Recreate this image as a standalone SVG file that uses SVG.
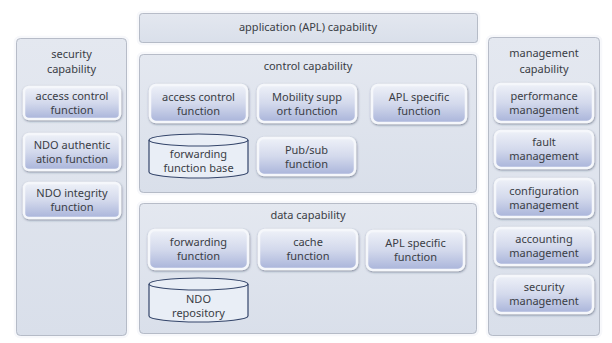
<svg xmlns="http://www.w3.org/2000/svg" width="612" height="343" viewBox="0 0 612 343">
<defs>
<linearGradient id="fg" x1="0" y1="0" x2="0" y2="1">
<stop offset="0" stop-color="#eef1f8"/>
<stop offset="0.5" stop-color="#d3d9ec"/>
<stop offset="1" stop-color="#a9b4da"/>
</linearGradient>
<linearGradient id="pg" x1="0" y1="0" x2="0" y2="1">
<stop offset="0" stop-color="#e4e8f0"/>
<stop offset="1" stop-color="#d9dfea"/>
</linearGradient>
<filter id="sh" x="-10%" y="-10%" width="120%" height="130%">
<feDropShadow dx="0.5" dy="1" stdDeviation="0.8" flood-color="#2a3550" flood-opacity="0.55"/>
</filter>
</defs>
<style>
.panel{fill:url(#pg);stroke:#f7f8fb;stroke-width:2.5}
.pedge{fill:none;stroke:#a9b0bd;stroke-width:0.8}
.fn{fill:url(#fg);stroke:#f5f7fb;stroke-width:2.5;filter:url(#sh)}
.cyl{fill:#e9eef6;stroke:#34456a;stroke-width:1.2}
text{font-family:"Noto Sans","Open Sans","DejaVu Sans",sans-serif;font-size:11px;fill:#3a3d45;text-anchor:middle}
</style>
<rect width="612" height="343" fill="#ffffff"/>

<g id="security-capability">
<rect class="panel" x="15" y="37" width="113" height="300" rx="5"/>
<rect class="pedge" x="16.5" y="38.5" width="110" height="297" rx="4"/>
<text x="71.5" y="58">security</text>
<text x="71.5" y="73">capability</text>
</g>
<g id="sec-access-control">
<rect class="fn" x="24" y="87" width="96" height="32" rx="5"/>
<text x="72" y="100">access control</text>
<text x="72" y="114">function</text>
</g>
<g id="sec-ndo-auth">
<rect class="fn" x="24" y="134" width="96" height="36" rx="5"/>
<text x="72" y="149">NDO authentic</text>
<text x="72" y="163">ation function</text>
</g>
<g id="sec-ndo-integrity">
<rect class="fn" x="24" y="183" width="96" height="35" rx="5"/>
<text x="72" y="197">NDO integrity</text>
<text x="72" y="211">function</text>
</g>

<g id="application-capability">
<rect class="panel" x="138" y="12" width="341" height="32" rx="4"/>
<rect class="pedge" x="139.5" y="13.5" width="338" height="29" rx="3"/>
<text x="308" y="31">application (APL) capability</text>
</g>

<g id="control-capability">
<rect class="panel" x="138" y="53" width="340" height="141" rx="5"/>
<rect class="pedge" x="139.5" y="54.5" width="337" height="138" rx="4"/>
<text x="308" y="70">control capability</text>
</g>
<g id="ctl-access-control">
<rect class="fn" x="150" y="85" width="97" height="37" rx="6"/>
<text x="198.5" y="101">access control</text>
<text x="198.5" y="115">function</text>
</g>
<g id="ctl-mobility">
<rect class="fn" x="258" y="85" width="98" height="37" rx="6"/>
<text x="307" y="101">Mobility supp</text>
<text x="307" y="115">ort function</text>
</g>
<g id="ctl-apl-specific">
<rect class="fn" x="372" y="85" width="94" height="38" rx="6"/>
<text x="419" y="101">APL specific</text>
<text x="419" y="115">function</text>
</g>
<g id="ctl-forwarding-base">
<path class="cyl" d="M149,140 L149,172 A49.5,6 0 0 0 248,172 L248,140 A49.5,6 0 0 0 149,140 Z"/>
<path class="cyl" d="M149,140 A49.5,6 0 0 0 248,140" fill="none"/>
<text x="198.5" y="158">forwarding</text>
<text x="198.5" y="172">function base</text>
</g>
<g id="ctl-pubsub">
<rect class="fn" x="258" y="138" width="97" height="37" rx="6"/>
<text x="306.5" y="154">Pub/sub</text>
<text x="306.5" y="168">function</text>
</g>

<g id="data-capability">
<rect class="panel" x="138" y="202" width="340" height="133" rx="5"/>
<rect class="pedge" x="139.5" y="203.5" width="337" height="130" rx="4"/>
<text x="308" y="219">data capability</text>
</g>
<g id="data-forwarding">
<rect class="fn" x="149" y="230" width="99" height="39" rx="6"/>
<text x="198.5" y="246">forwarding</text>
<text x="198.5" y="260">function</text>
</g>
<g id="data-cache">
<rect class="fn" x="259" y="230" width="98" height="39" rx="6"/>
<text x="308" y="246">cache</text>
<text x="308" y="260">function</text>
</g>
<g id="data-apl-specific">
<rect class="fn" x="367" y="231" width="97" height="39" rx="6"/>
<text x="415.5" y="247">APL specific</text>
<text x="415.5" y="261">function</text>
</g>
<g id="data-ndo-repository">
<path class="cyl" d="M149,284 L149,316 A49.5,6 0 0 0 248,316 L248,284 A49.5,6 0 0 0 149,284 Z"/>
<path class="cyl" d="M149,284 A49.5,6 0 0 0 248,284" fill="none"/>
<text x="198.5" y="303">NDO</text>
<text x="198.5" y="317">repository</text>
</g>

<g id="management-capability">
<rect class="panel" x="487" y="36" width="114" height="301" rx="5"/>
<rect class="pedge" x="488.5" y="37.5" width="111" height="298" rx="4"/>
<text x="544" y="57">management</text>
<text x="544" y="73">capability</text>
</g>
<g id="mgmt-performance">
<rect class="fn" x="495" y="84" width="98" height="38" rx="6"/>
<text x="544" y="100">performance</text>
<text x="544" y="114">management</text>
</g>
<g id="mgmt-fault">
<rect class="fn" x="495" y="131" width="98" height="37" rx="6"/>
<text x="544" y="146">fault</text>
<text x="544" y="160">management</text>
</g>
<g id="mgmt-configuration">
<rect class="fn" x="495" y="179" width="98" height="38" rx="6"/>
<text x="544" y="195">configuration</text>
<text x="544" y="209">management</text>
</g>
<g id="mgmt-accounting">
<rect class="fn" x="495" y="228" width="98" height="37" rx="6"/>
<text x="544" y="243">accounting</text>
<text x="544" y="257">management</text>
</g>
<g id="mgmt-security">
<rect class="fn" x="495" y="276" width="98" height="37" rx="6"/>
<text x="544" y="291">security</text>
<text x="544" y="305">management</text>
</g>
<g id="connectors"></g>
</svg>
